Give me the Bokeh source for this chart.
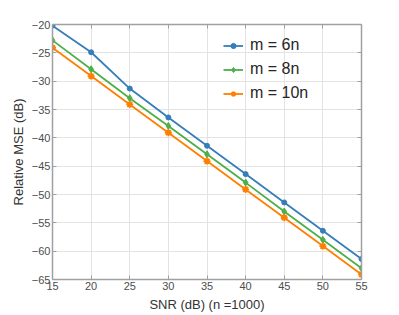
from bokeh.plotting import figure
from bokeh.models import (Legend, LegendItem, LinearAxis, FixedTicker,
                          CustomJSTickFormatter, Range1d)
from bokeh.embed import file_html
from bokeh.resources import INLINE

# ---- data ----
snr = [15, 20, 25, 30, 35, 40, 45, 50, 55]
mse_m6 = [-20.2, -24.9, -31.3, -36.4, -41.4, -46.4, -51.4, -56.4, -61.4]
mse_m8 = [-22.8, -27.9, -33.0, -37.9, -42.9, -47.9, -53.0, -58.0, -63.0]
mse_m10 = [-24.1, -29.1, -34.1, -39.1, -44.1, -49.1, -54.1, -59.1, -64.1]
series_labels = ["m = 6n", "m = 8n", "m = 10n"]
x_ticks = [15, 20, 25, 30, 35, 40, 45, 50, 55]
y_ticks = [-65, -60, -55, -50, -45, -40, -35, -30, -25, -20]

BLUE, GREEN, ORANGE = "#377eb8", "#4daf4a", "#ff7f00"
FONT = "Liberation Sans"
TICK_COLOR = "#4d4d4d"
AXIS_COLOR = "#a0a0a0"

W, H = 399, 315
MT, MB, ML, MR = 24, 36, 52, 38

p = figure(width=W, height=H, output_backend="svg", toolbar_location=None,
           x_range=Range1d(15, 55), y_range=Range1d(-65, -20),
           min_border_left=ML, min_border_right=MR, min_border_top=MT,
           min_border_bottom=MB)
p.outline_line_color = None
p.background_fill_color = "white"
p.border_fill_color = "white"

# main axes
for ax, ticks in ((p.xaxis[0], x_ticks), (p.yaxis[0], y_ticks)):
    ax.ticker = FixedTicker(ticks=ticks)
    ax.major_tick_in = 4
    ax.major_tick_out = 0
    ax.minor_tick_line_color = None
    ax.axis_line_color = AXIS_COLOR
    ax.axis_line_width = 1.5
    ax.major_tick_line_color = AXIS_COLOR
    ax.major_label_text_font = FONT
    ax.major_label_text_font_size = "11px"
    ax.major_label_text_color = TICK_COLOR
    ax.axis_label_text_font = FONT
    ax.axis_label_text_font_size = "13px"
    ax.axis_label_text_font_style = "normal"
    ax.axis_label_text_color = "#333333"
    ax.major_label_standoff = 2

p.xaxis.axis_label = "SNR (dB) (n =1000)"
p.yaxis.axis_label = "Relative MSE (dB)"
p.xaxis.axis_label_standoff = 4
p.yaxis.axis_label_standoff = 3

# box axes (top/right)
blank = CustomJSTickFormatter(code="return ''")
top = LinearAxis(ticker=FixedTicker(ticks=x_ticks), formatter=blank)
right = LinearAxis(ticker=FixedTicker(ticks=y_ticks), formatter=blank)
for ax in (top, right):
    ax.major_tick_in = 4
    ax.major_tick_out = 0
    ax.minor_tick_line_color = None
    ax.axis_line_color = AXIS_COLOR
    ax.axis_line_width = 1.5
    ax.major_tick_line_color = AXIS_COLOR
    ax.major_label_text_font_size = "1px"
    ax.major_label_standoff = 0
p.add_layout(top, "above")
p.add_layout(right, "right")

# grid
p.xgrid.ticker = FixedTicker(ticks=x_ticks)
p.ygrid.ticker = FixedTicker(ticks=y_ticks)
for g in (p.xgrid[0], p.ygrid[0]):
    g.grid_line_color = "#e3e3e3"
    g.grid_line_width = 1

# series
l1 = p.line(snr, mse_m6, line_color=BLUE, line_width=1.8)
s1 = p.scatter(snr, mse_m6, marker="circle", size=5, color=BLUE)
l2 = p.line(snr, mse_m8, line_color=GREEN, line_width=1.8)
s2 = p.scatter(snr, mse_m8, marker="diamond", size=7, color=GREEN)
l3 = p.line(snr, mse_m10, line_color=ORANGE, line_width=1.8)
s3 = p.scatter(snr, mse_m10, marker="asterisk", size=7, line_color=ORANGE,
               line_width=1.8)

# legend
frame_h = H - MT - MB
row_h = 13
gap = 6
leg_h = 3 * row_h + 2 * gap
legend = Legend(items=[
    LegendItem(label=series_labels[0], renderers=[l1, s1]),
    LegendItem(label=series_labels[1], renderers=[l2, s2]),
    LegendItem(label=series_labels[2], renderers=[l3, s3]),
], location=(171, frame_h - 27 - leg_h))
legend.border_line_color = None
legend.background_fill_alpha = 0
legend.padding = 0
legend.margin = 0
legend.spacing = gap
legend.glyph_width = 20
legend.glyph_height = row_h
legend.label_height = row_h
legend.label_standoff = 7
legend.label_text_font = FONT
legend.label_text_font_size = "16px"
legend.label_text_color = "#262626"
p.add_layout(legend)

open("out.html", "w").write(file_html(p, INLINE))
